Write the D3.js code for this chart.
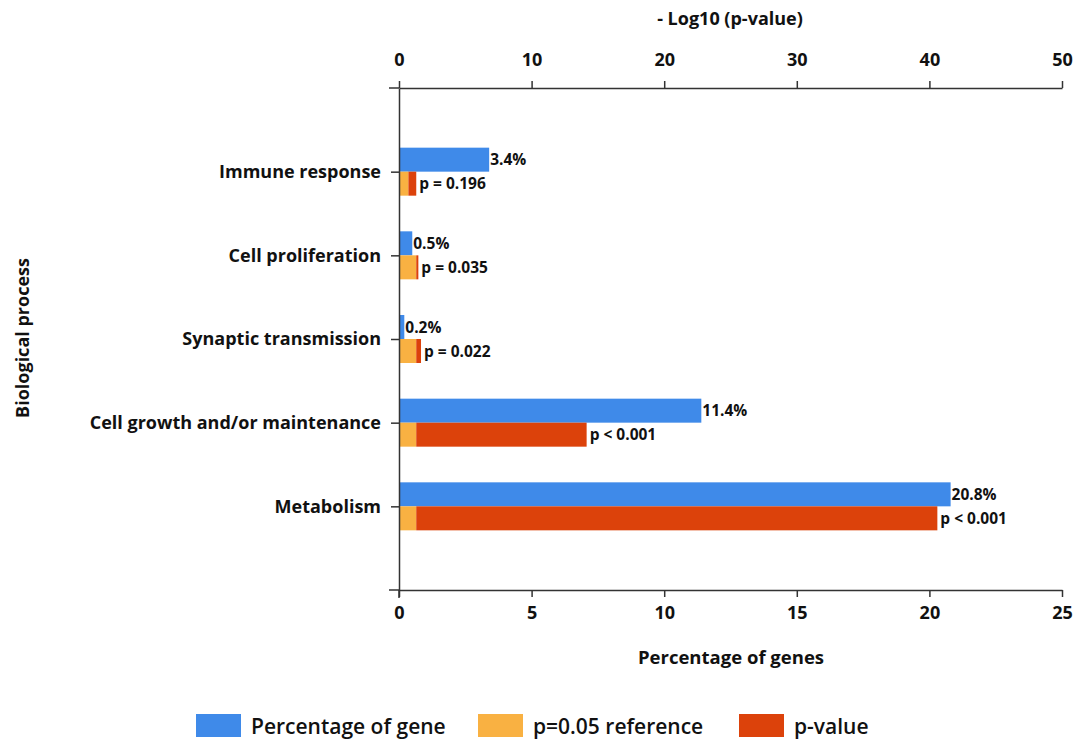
<!DOCTYPE html>
<html>
<head>
<meta charset="utf-8">
<script src="https://cdn.jsdelivr.net/npm/d3@7/dist/d3.min.js"></script>
<style>
  html, body { margin: 0; padding: 0; background: #fff; }
  svg text { font-family: "Open Sans", "DejaVu Sans", sans-serif; fill: #111; }
</style>
</head>
<body>
<svg id="chart" width="1078" height="742"></svg>
<script>
// ---- data ----
const categories = ["Immune response", "Cell proliferation", "Synaptic transmission", "Cell growth and/or maintenance", "Metabolism"];
const percentGenes = [3.4, 0.5, 0.2, 11.4, 20.8];
const percentLabels = ["3.4%", "0.5%", "0.2%", "11.4%", "20.8%"];
const negLogP = [0.71, 1.46, 1.66, 14.15, 40.6];
const pLabels = ["p = 0.196", "p = 0.035", "p = 0.022", "p < 0.001", "p < 0.001"];
const referenceP = 0.05;
const pctTicks = [0, 5, 10, 15, 20, 25];
const logTicks = [0, 10, 20, 30, 40, 50];
const legendItems = ["Percentage of gene", "p=0.05 reference", "p-value"];
const colors = ["#3f8ae9", "#f9b142", "#dc420b"];

const refVal = -Math.log10(referenceP);

const svg = d3.select("#chart");
const pLeft = 399, pRight = 1062, pTop = 88, pBottom = 590;

const xPct = d3.scaleLinear().domain([0, 25]).range([pLeft, pRight]);
const xLog = d3.scaleLinear().domain([0, 50]).range([pLeft, pRight]);
const y = d3.scalePoint().domain(categories).range([pTop, pBottom]).padding(1);
const barH = 24;

const rows = categories.map((c, i) => ({
  c, pct: percentGenes[i], pctLabel: percentLabels[i], nlp: negLogP[i], pLabel: pLabels[i]
}));

// bars: blue (percentage)
svg.append("g").selectAll("rect").data(rows).join("rect")
  .attr("x", xPct(0))
  .attr("y", d => y(d.c) - barH)
  .attr("width", d => xPct(d.pct) - xPct(0))
  .attr("height", barH)
  .attr("fill", colors[0]);

// orange: from 0 to min(value, ref)
svg.append("g").selectAll("rect").data(rows).join("rect")
  .attr("x", xLog(0))
  .attr("y", d => y(d.c))
  .attr("width", d => xLog(Math.min(d.nlp, refVal)) - xLog(0))
  .attr("height", barH)
  .attr("fill", colors[1]);

// red: from min to max
svg.append("g").selectAll("rect").data(rows).join("rect")
  .attr("x", d => xLog(Math.min(d.nlp, refVal)))
  .attr("y", d => y(d.c))
  .attr("width", d => xLog(Math.max(d.nlp, refVal)) - xLog(Math.min(d.nlp, refVal)))
  .attr("height", barH)
  .attr("fill", colors[2]);

// value labels
svg.append("g").selectAll("text").data(rows).join("text")
  .attr("x", d => xPct(d.pct) + 1)
  .attr("y", d => y(d.c) - barH / 2 + 5.5)
  .attr("font-size", 15.5).attr("font-weight", 700)
  .text(d => d.pctLabel);

svg.append("g").selectAll("text").data(rows).join("text")
  .attr("x", d => xLog(Math.max(d.nlp, refVal)) + 3)
  .attr("y", d => y(d.c) + barH / 2 + 5.5)
  .attr("font-size", 15.5).attr("font-weight", 700)
  .text(d => d.pLabel);

// axes
const topAxis = d3.axisTop(xLog).tickValues(logTicks).tickSize(7).tickSizeOuter(0).tickPadding(15);
const botAxis = d3.axisBottom(xPct).tickValues(pctTicks).tickSize(7).tickSizeOuter(0).tickPadding(9);
const leftAxis = d3.axisLeft(y).tickSize(8).tickSizeOuter(0).tickPadding(10);

function styleAxis(g) {
  g.select(".domain").attr("stroke", "#333").attr("stroke-width", 1.5);
  g.selectAll(".tick line").attr("stroke", "#333").attr("stroke-width", 1.5);
  g.selectAll(".tick text").attr("font-family", '"Open Sans", sans-serif').attr("font-weight", 700).attr("fill", "#111");
}

const gTop = svg.append("g").attr("transform", `translate(0,${pTop})`).call(topAxis).call(styleAxis);
gTop.selectAll(".tick text").attr("font-size", 18);
const gBot = svg.append("g").attr("transform", `translate(0,${pBottom})`).call(botAxis).call(styleAxis);
gBot.selectAll(".tick text").attr("font-size", 18);
const gLeft = svg.append("g").attr("transform", `translate(${pLeft},0)`).call(leftAxis).call(styleAxis);
gLeft.selectAll(".tick text").attr("font-size", 18);

// axis extensions (boundary ticks)
svg.append("line").attr("x1", pLeft - 10).attr("x2", pLeft).attr("y1", pTop).attr("y2", pTop).attr("stroke", "#333").attr("stroke-width", 1.5);
svg.append("line").attr("x1", pLeft - 10).attr("x2", pLeft).attr("y1", pBottom).attr("y2", pBottom).attr("stroke", "#333").attr("stroke-width", 1.5);
svg.append("line").attr("x1", pLeft).attr("x2", pLeft).attr("y1", pBottom).attr("y2", pBottom + 8).attr("stroke", "#333").attr("stroke-width", 1.5);

// titles
svg.append("text").attr("x", 730).attr("y", 25).attr("text-anchor", "middle")
  .attr("font-size", 18).attr("font-weight", 700).text("- Log10 (p-value)");
svg.append("text").attr("x", 731).attr("y", 664).attr("text-anchor", "middle")
  .attr("font-size", 18.5).attr("font-weight", 700).text("Percentage of genes");
svg.append("text").attr("transform", "translate(29,338) rotate(-90)").attr("text-anchor", "middle")
  .attr("font-size", 18).attr("font-weight", 700).text("Biological process");

// legend
const legendX = [196, 478, 739];
const lg = svg.append("g");
legendItems.forEach((t, i) => {
  lg.append("rect").attr("x", legendX[i]).attr("y", 714).attr("width", 45).attr("height", 23).attr("fill", colors[i]);
  lg.append("text").attr("x", legendX[i] + 55).attr("y", 734).attr("font-size", 21).attr("font-weight", 600).text(t);
});
</script>
</body>
</html>
